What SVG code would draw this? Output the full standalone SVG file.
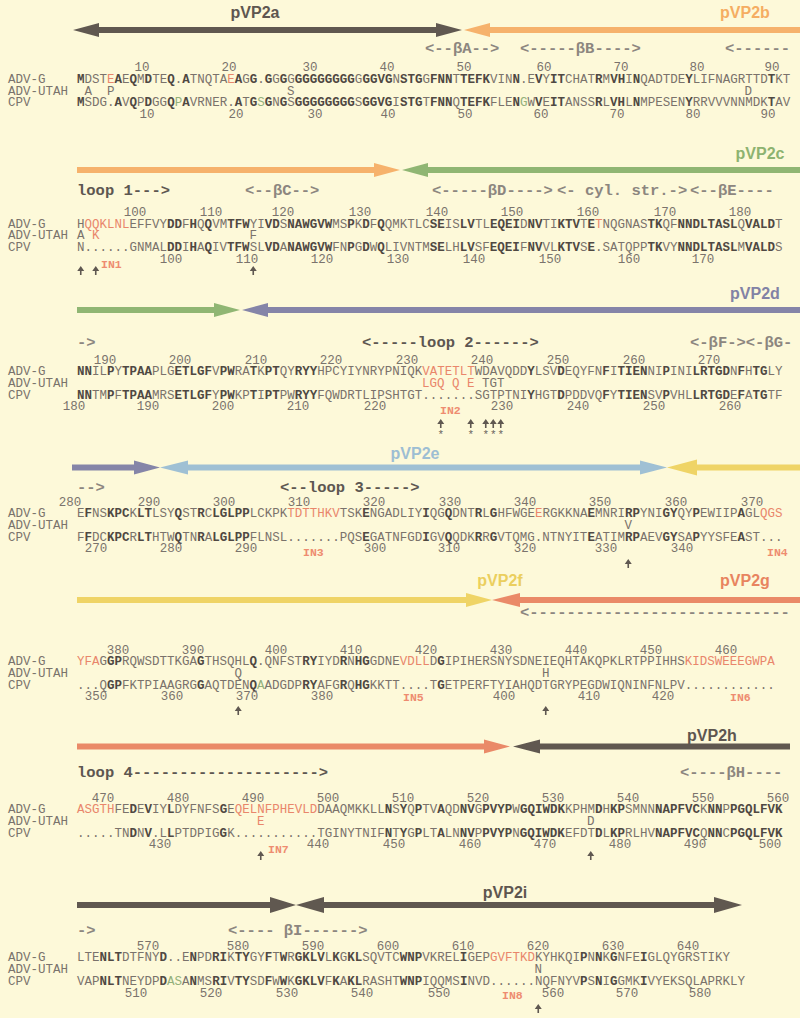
<svg xmlns="http://www.w3.org/2000/svg" xmlns:xlink="http://www.w3.org/1999/xlink" width="800" height="1018" viewBox="0 0 800 1018">
<style>
.s{font-family:'Liberation Mono','DejaVu Sans Mono',monospace;font-size:12.5px;fill:#7a726b}
.b{font-weight:bold;fill:#4f4842}
.r{fill:#e9866b}
.g{fill:#93b07a}
.n{font-family:'Liberation Mono','DejaVu Sans Mono',monospace;font-size:12.5px;fill:#7a736c;text-anchor:middle}
.lab{font-family:'Liberation Mono','DejaVu Sans Mono',monospace;font-size:12.5px;fill:#7a736c}
.in{font-family:'Liberation Mono','DejaVu Sans Mono',monospace;font-size:11.5px;font-weight:bold;fill:#ee8c70}
.ann{font-family:'Liberation Mono','DejaVu Sans Mono',monospace;font-size:15.5px;font-weight:bold;fill:#8c867f}
.loop{fill:#5d5751}
.dom{font-family:'Liberation Sans',Arial,sans-serif;font-size:16px;font-weight:bold;text-anchor:middle}
.star{font-family:'Liberation Mono',monospace;font-size:11px;fill:#6a635d;text-anchor:middle}
</style>
<defs>
<path id="up" d="M0,0 L3.5,5 L0.8,5 L0.8,9 L-0.8,9 L-0.8,5 L-3.5,5 Z" fill="#5f5851"/>
</defs>
<rect width="800" height="1018" fill="#fdf9d9"/>

<g id="domains">
<path d="M73,30 L99,23 L99,27 L436,27 L436,23 L462,30 L436,37 L436,33 L99,33 L99,37 Z" fill="#605850"/>
<path d="M464,30 L490,23 L490,27 L800,27 L800,33 L490,33 L490,37 Z" fill="#f6b26c"/>
<text class="dom" x="255" y="18" fill="#5e5650">pVP2a</text>
<text class="dom" x="745" y="18" fill="#f5ad62">pVP2b</text>

<path d="M77,167 L374,167 L374,163 L400,170 L374,177 L374,173 L77,173 Z" fill="#f6b26c"/>
<path d="M402,170 L428,163 L428,167 L800,167 L800,173 L428,173 L428,177 Z" fill="#90b673"/>
<text class="dom" x="760" y="159" fill="#8db370">pVP2c</text>

<path d="M77,307 L214,307 L214,303 L240,310 L214,317 L214,313 L77,313 Z" fill="#90b673"/>
<path d="M242,310 L268,303 L268,307 L800,307 L800,313 L268,313 L268,317 Z" fill="#8585a8"/>
<text class="dom" x="755" y="299" fill="#8282a5">pVP2d</text>

<path d="M72,464.5 L134,464.5 L134,460.5 L160,467.5 L134,474.5 L134,470.5 L72,470.5 Z" fill="#8585a8"/>
<path d="M160,467.5 L188,460.5 L188,464.5 L640,464.5 L640,460.5 L667,467.5 L640,474.5 L640,470.5 L188,470.5 L188,474.5 Z" fill="#9fc0d4"/>
<path d="M667,467.5 L697,459.5 L697,464.5 L800,464.5 L800,470.5 L697,470.5 L697,475.5 Z" fill="#efd466"/>
<text class="dom" x="415" y="459" fill="#9dbed3">pVP2e</text>

<path d="M77,597 L466,597 L466,593 L492,600 L466,607 L466,603 L77,603 Z" fill="#efd466"/>
<path d="M492,600 L520,593 L520,597 L800,597 L800,603 L520,603 L520,607 Z" fill="#ea8a68"/>
<text class="dom" x="500" y="586" fill="#ebcf5e">pVP2f</text>
<text class="dom" x="745" y="586" fill="#e8845f">pVP2g</text>

<path d="M77,743.5 L484,743.5 L484,739.5 L510,746.5 L484,753.5 L484,749.5 L77,749.5 Z" fill="#ea8a68"/>
<path d="M513,746.5 L540,739.5 L540,743.5 L790,743.5 L790,749.5 L540,749.5 L540,753.5 Z" fill="#605850"/>
<text class="dom" x="712" y="741" fill="#5e5650">pVP2h</text>

<path d="M77,902 L270,902 L270,897 L296,905 L270,913 L270,908 L77,908 Z" fill="#605850"/>
<path d="M296,905 L324,897 L324,902 L714,902 L714,897 L742,905 L714,913 L714,908 L324,908 L324,913 Z" fill="#605850"/>
<text class="dom" x="505" y="898" fill="#5e5650">pVP2i</text>
</g>

<g id="annotations" xml:space="preserve">
<text class="ann" x="425" y="53">&lt;--βA--&gt;</text>
<text class="ann" x="520" y="53">&lt;-----βB----&gt;</text>
<text class="ann" x="725" y="53">&lt;------</text>
<text class="ann loop" x="77" y="195">loop 1---&gt;</text>
<text class="ann" x="245" y="195">&lt;--βC--&gt;</text>
<text class="ann" x="432" y="195">&lt;-----βD----&gt;</text>
<text class="ann" x="557" y="195">&lt;- cyl. str.-&gt;</text>
<text class="ann" x="690" y="195">&lt;--βE----</text>
<text class="ann" x="77" y="347">-&gt;</text>
<text class="ann loop" x="362" y="347">&lt;-----loop 2------&gt;</text>
<text class="ann" x="690" y="347">&lt;-βF-&gt;&lt;-βG-</text>
<text class="ann" x="77" y="492">--&gt;</text>
<text class="ann loop" x="280" y="492">&lt;--loop 3-----&gt;</text>
<text class="ann" x="520" y="617">&lt;----------------------------</text>
<text class="ann loop" x="77" y="777">loop 4--------------------&gt;</text>
<text class="ann" x="680" y="777">&lt;----βH----</text>
<text class="ann" x="77" y="935">-&gt;</text>
<text class="ann" x="228" y="935">&lt;---- βI------&gt;</text>
</g>

<g id="block1">
<text class="lab" x="8" y="83">ADV-G</text><text class="lab" x="8" y="94.5">ADV-UTAH</text><text class="lab" x="8" y="106">CPV</text>
<text class="n" x="142" y="71">10</text><text class="n" x="229" y="71">20</text><text class="n" x="310" y="71">30</text><text class="n" x="387" y="71">40</text><text class="n" x="464" y="71">50</text><text class="n" x="544" y="71">60</text><text class="n" x="621" y="71">70</text><text class="n" x="697" y="71">80</text><text class="n" x="772" y="71">90</text>
<text class="s" x="77" y="83"><tspan class="b">M</tspan>DST<tspan class="r">E</tspan><tspan class="b">A</tspan>E<tspan class="b">Q</tspan>M<tspan class="b">D</tspan>TE<tspan class="b">Q</tspan>.<tspan class="b">A</tspan>TNQTA<tspan class="r">E</tspan><tspan class="b">A</tspan>G<tspan class="b">G</tspan>.<tspan class="b">G</tspan>G<tspan class="b">G</tspan>G<tspan class="b">GGGGGGGG</tspan>G<tspan class="b">GGVG</tspan>N<tspan class="b">STG</tspan>G<tspan class="b">FNN</tspan>T<tspan class="b">TEFK</tspan>VIN<tspan class="b">N</tspan>.E<tspan class="b">V</tspan>Y<tspan class="b">IT</tspan>CHAT<tspan class="b">R</tspan>M<tspan class="b">VH</tspan>I<tspan class="b">N</tspan>QADTDE<tspan class="b">Y</tspan>LIFNAGRTTD<tspan class="b">T</tspan>KT</text>
<text class="s" x="84.5" y="94.5">A</text><text class="s" x="107" y="94.5">P</text><text class="s" x="287" y="94.5">S</text><text class="s" x="744.5" y="94.5">D</text>
<text class="s" x="77" y="106"><tspan class="b">M</tspan>SDG.<tspan class="b">A</tspan>V<tspan class="b">Q</tspan>P<tspan class="b">D</tspan>GG<tspan class="b">Q</tspan><tspan class="g">P</tspan><tspan class="b">A</tspan>VRNER.<tspan class="b">A</tspan>T<tspan class="b">G</tspan><tspan class="g">S</tspan><tspan class="b">G</tspan>N<tspan class="b">G</tspan>S<tspan class="b">GGGGGGGG</tspan>S<tspan class="b">GGVG</tspan>I<tspan class="b">STG</tspan>T<tspan class="b">FNN</tspan>Q<tspan class="b">TEFK</tspan>FLE<tspan class="b">N</tspan><tspan class="g">G</tspan>W<tspan class="b">V</tspan>E<tspan class="b">IT</tspan>ANSS<tspan class="b">R</tspan>L<tspan class="b">VH</tspan>L<tspan class="b">N</tspan>MPESEN<tspan class="b">Y</tspan>RRVVVNNMDK<tspan class="b">T</tspan>AV</text>
<text class="n" x="147" y="117.5">10</text><text class="n" x="236" y="117.5">20</text><text class="n" x="315" y="117.5">30</text><text class="n" x="388" y="117.5">40</text><text class="n" x="465" y="117.5">50</text><text class="n" x="541" y="117.5">60</text><text class="n" x="617" y="117.5">70</text><text class="n" x="693" y="117.5">80</text><text class="n" x="768" y="117.5">90</text>
</g>

<g id="block2">
<text class="lab" x="8" y="227.5">ADV-G</text><text class="lab" x="8" y="239">ADV-UTAH</text><text class="lab" x="8" y="251">CPV</text>
<text class="n" x="135" y="216">100</text><text class="n" x="211" y="216">110</text><text class="n" x="283" y="216">120</text><text class="n" x="360" y="216">130</text><text class="n" x="437" y="216">140</text><text class="n" x="512" y="216">150</text><text class="n" x="588" y="216">160</text><text class="n" x="665" y="216">170</text><text class="n" x="740" y="216">180</text>
<text class="s" x="77" y="227.5">H<tspan class="r">QQKLNL</tspan>EFFVY<tspan class="b">DD</tspan>F<tspan class="b">H</tspan>Q<tspan class="b">Q</tspan>VM<tspan class="b">TFW</tspan>YI<tspan class="b">VD</tspan>S<tspan class="b">NAWGVW</tspan>MS<tspan class="b">P</tspan>K<tspan class="b">D</tspan>F<tspan class="b">Q</tspan>QMKTLC<tspan class="b">SE</tspan>IS<tspan class="b">LV</tspan>TL<tspan class="b">EQEI</tspan>D<tspan class="b">NV</tspan>TI<tspan class="b">KTV</tspan>T<tspan class="b">E</tspan><tspan class="r">T</tspan>NQGNAS<tspan class="b">TK</tspan>QF<tspan class="b">NNDLTASL</tspan>Q<tspan class="b">VALD</tspan>T</text>
<text class="s" x="77" y="239">A</text><text class="s r" x="92" y="239">K</text><text class="s" x="249.5" y="239">F</text>
<text class="s" x="77" y="251">N......GNMAL<tspan class="b">DD</tspan>I<tspan class="b">H</tspan>A<tspan class="b">Q</tspan>IV<tspan class="b">TFW</tspan>SL<tspan class="b">VD</tspan>A<tspan class="b">NAWGVW</tspan>FN<tspan class="b">P</tspan>G<tspan class="b">D</tspan>W<tspan class="b">Q</tspan>LIVNTM<tspan class="b">SE</tspan>LH<tspan class="b">LV</tspan>SF<tspan class="b">EQEI</tspan>F<tspan class="b">NV</tspan>VL<tspan class="b">KTV</tspan>S<tspan class="b">E</tspan>.SATQPP<tspan class="b">TK</tspan>VY<tspan class="b">NNDLTASL</tspan>M<tspan class="b">VALD</tspan>S</text>
<text class="n" x="171" y="263">100</text><text class="n" x="247" y="263">110</text><text class="n" x="322" y="263">120</text><text class="n" x="398" y="263">130</text><text class="n" x="474" y="263">140</text><text class="n" x="550" y="263">150</text><text class="n" x="629" y="263">160</text><text class="n" x="703" y="263">170</text>
<text class="in" x="101" y="268">IN1</text>
<use xlink:href="#up" x="80.75" y="266"/><use xlink:href="#up" x="95.75" y="266"/><use xlink:href="#up" x="253.25" y="266"/>
</g>

<g id="block3">
<text class="lab" x="8" y="375">ADV-G</text><text class="lab" x="8" y="387">ADV-UTAH</text><text class="lab" x="8" y="399">CPV</text>
<text class="n" x="105" y="363.5">190</text><text class="n" x="180" y="363.5">200</text><text class="n" x="256" y="363.5">210</text><text class="n" x="331" y="363.5">220</text><text class="n" x="407" y="363.5">230</text><text class="n" x="482" y="363.5">240</text><text class="n" x="558" y="363.5">250</text><text class="n" x="634" y="363.5">260</text><text class="n" x="709" y="363.5">270</text>
<text class="s" x="77" y="375"><tspan class="b">NN</tspan>IL<tspan class="b">P</tspan>Y<tspan class="b">TPAA</tspan>PLG<tspan class="b">ETLGF</tspan>V<tspan class="b">PW</tspan>RA<tspan class="b">T</tspan>K<tspan class="b">PT</tspan>QY<tspan class="b">RYY</tspan>HPCYIYNRYPNIQK<tspan class="r">VATETLT</tspan>WDAVQDD<tspan class="b">Y</tspan>LSV<tspan class="b">D</tspan>EQYFN<tspan class="b">F</tspan>I<tspan class="b">TIEN</tspan>NI<tspan class="b">P</tspan>INI<tspan class="b">LRTGD</tspan>N<tspan class="b">F</tspan>H<tspan class="b">TG</tspan>LY</text>
<text class="s r" x="422" y="387" xml:space="preserve">LGQ Q E</text><text class="s" x="482" y="387">TGT</text>
<text class="s" x="77" y="399"><tspan class="b">NN</tspan>TM<tspan class="b">P</tspan>F<tspan class="b">TPAA</tspan>MRS<tspan class="b">ETLGF</tspan>Y<tspan class="b">PW</tspan>KP<tspan class="b">T</tspan>I<tspan class="b">PT</tspan>PW<tspan class="b">RYY</tspan>FQWDRTLIPSHTGT.......SGTPTNI<tspan class="b">Y</tspan>HGT<tspan class="b">D</tspan>PDDVQ<tspan class="b">F</tspan>Y<tspan class="b">TIEN</tspan>SV<tspan class="b">P</tspan>VHL<tspan class="b">LRTGD</tspan>E<tspan class="b">F</tspan>A<tspan class="b">TG</tspan>TF</text>
<text class="n" x="74" y="410">180</text><text class="n" x="148" y="410">190</text><text class="n" x="223" y="410">200</text><text class="n" x="298" y="410">210</text><text class="n" x="375" y="410">220</text><text class="n" x="502" y="410">230</text><text class="n" x="578" y="410">240</text><text class="n" x="654" y="410">250</text><text class="n" x="730" y="410">260</text>
<text class="in" x="440" y="414">IN2</text>
<use xlink:href="#up" x="440.75" y="419"/><use xlink:href="#up" x="470.75" y="419"/><use xlink:href="#up" x="485.75" y="419"/><use xlink:href="#up" x="493.25" y="419"/><use xlink:href="#up" x="500.75" y="419"/>
<text class="star" x="440.75" y="438">*</text><text class="star" x="470.75" y="438">*</text><text class="star" x="485.75" y="438">*</text><text class="star" x="493.25" y="438">*</text><text class="star" x="500.75" y="438">*</text>
</g>

<g id="block4">
<text class="lab" x="8" y="517">ADV-G</text><text class="lab" x="8" y="529">ADV-UTAH</text><text class="lab" x="8" y="540.5">CPV</text>
<text class="n" x="70" y="505.5">280</text><text class="n" x="149" y="505.5">290</text><text class="n" x="224" y="505.5">300</text><text class="n" x="299" y="505.5">310</text><text class="n" x="374" y="505.5">320</text><text class="n" x="450" y="505.5">330</text><text class="n" x="525" y="505.5">340</text><text class="n" x="600" y="505.5">350</text><text class="n" x="676" y="505.5">360</text><text class="n" x="752" y="505.5">370</text>
<text class="s" x="77" y="517">E<tspan class="b">F</tspan>NS<tspan class="b">KPC</tspan>K<tspan class="b">LT</tspan>LSY<tspan class="b">Q</tspan>ST<tspan class="b">R</tspan>C<tspan class="b">LGLPP</tspan>LCKPK<tspan class="r">TDTTHKV</tspan>TSK<tspan class="b">E</tspan>NGADLIY<tspan class="b">I</tspan>QG<tspan class="b">Q</tspan>DNT<tspan class="b">R</tspan>L<tspan class="b">G</tspan>HFWGE<tspan class="r">E</tspan>RGKKNA<tspan class="b">E</tspan>MNRI<tspan class="b">RP</tspan>YNI<tspan class="b">GY</tspan>QY<tspan class="b">P</tspan>EWIIP<tspan class="b">A</tspan>GL<tspan class="r">QGS</tspan></text>
<text class="s" x="624.5" y="529">V</text>
<text class="s" x="77" y="540.5">F<tspan class="b">F</tspan>DC<tspan class="b">KPC</tspan>R<tspan class="b">LT</tspan>HTW<tspan class="b">Q</tspan>TN<tspan class="b">R</tspan>A<tspan class="b">LGLPP</tspan>FLNSL.......PQS<tspan class="b">E</tspan>GATNFGD<tspan class="b">I</tspan>GV<tspan class="b">Q</tspan>QDK<tspan class="b">R</tspan>R<tspan class="b">G</tspan>VTQMG.NTNYIT<tspan class="b">E</tspan>ATIM<tspan class="b">RP</tspan>AEV<tspan class="b">GY</tspan>SA<tspan class="b">P</tspan>YYSFE<tspan class="b">A</tspan>ST...</text>
<text class="n" x="96" y="552">270</text><text class="n" x="171" y="552">280</text><text class="n" x="246" y="552">290</text><text class="n" x="375" y="552">300</text><text class="n" x="449" y="552">310</text><text class="n" x="525" y="552">320</text><text class="n" x="606" y="552">330</text><text class="n" x="682" y="552">340</text>
<text class="in" x="303" y="556">IN3</text><text class="in" x="767" y="556">IN4</text>
<use xlink:href="#up" x="628.25" y="559"/>
</g>

<g id="block5">
<text class="lab" x="8" y="665">ADV-G</text><text class="lab" x="8" y="677">ADV-UTAH</text><text class="lab" x="8" y="688.5">CPV</text>
<text class="n" x="118" y="653.5">380</text><text class="n" x="193" y="653.5">390</text><text class="n" x="276" y="653.5">400</text><text class="n" x="351" y="653.5">410</text><text class="n" x="426" y="653.5">420</text><text class="n" x="501" y="653.5">430</text><text class="n" x="576" y="653.5">440</text><text class="n" x="651" y="653.5">450</text><text class="n" x="726" y="653.5">460</text>
<text class="s" x="77" y="665"><tspan class="r">YFA</tspan>G<tspan class="b">GP</tspan>RQWSDTTKGA<tspan class="b">G</tspan>THSQHL<tspan class="b">Q</tspan>.QNFST<tspan class="b">RY</tspan>IYD<tspan class="b">R</tspan>N<tspan class="b">HG</tspan>GDNE<tspan class="r">VDLL</tspan>D<tspan class="b">G</tspan>IPIHERSNYSDNEIEQHTAKQPKLRTPPIHHS<tspan class="r">KIDSWEEEGWPA</tspan></text>
<text class="s" x="234.5" y="677">Q</text><text class="s" x="542" y="677">H</text>
<text class="s" x="77" y="688.5">...Q<tspan class="b">GP</tspan>FKTPIAAGRG<tspan class="b">G</tspan>AQTDEN<tspan class="b">Q</tspan><tspan class="g">A</tspan>ADGDP<tspan class="b">RY</tspan>AFG<tspan class="b">R</tspan>Q<tspan class="b">HG</tspan>KKTT....T<tspan class="b">G</tspan>ETPERFTYIAHQDTGRYPEGDWIQNINFNLPV............</text>
<text class="n" x="96" y="700">350</text><text class="n" x="172" y="700">360</text><text class="n" x="247" y="700">370</text><text class="n" x="322" y="700">380</text><text class="n" x="504" y="700">400</text><text class="n" x="589" y="700">410</text><text class="n" x="663" y="700">420</text>
<text class="in" x="403" y="701">IN5</text><text class="in" x="730" y="701">IN6</text>
<use xlink:href="#up" x="238.25" y="706"/><use xlink:href="#up" x="545.75" y="706"/>
</g>

<g id="block6">
<text class="lab" x="8" y="813">ADV-G</text><text class="lab" x="8" y="825">ADV-UTAH</text><text class="lab" x="8" y="836.5">CPV</text>
<text class="n" x="103" y="801.5">470</text><text class="n" x="178" y="801.5">480</text><text class="n" x="253" y="801.5">490</text><text class="n" x="328" y="801.5">500</text><text class="n" x="403" y="801.5">510</text><text class="n" x="478" y="801.5">520</text><text class="n" x="553" y="801.5">530</text><text class="n" x="628" y="801.5">540</text><text class="n" x="703" y="801.5">550</text><text class="n" x="778" y="801.5">560</text>
<text class="s" x="77" y="813"><tspan class="r">ASGTH</tspan>FE<tspan class="b">D</tspan>E<tspan class="b">V</tspan>IY<tspan class="b">L</tspan>DYFNFS<tspan class="b">G</tspan>E<tspan class="r">QELNFPHEVLD</tspan>DAAQMKKLL<tspan class="b">N</tspan>S<tspan class="b">Y</tspan>Q<tspan class="b">P</tspan>TV<tspan class="b">A</tspan>QD<tspan class="b">NV</tspan>G<tspan class="b">PVYP</tspan>W<tspan class="b">G</tspan><tspan class="b">QIWDK</tspan>KPHM<tspan class="b">D</tspan>H<tspan class="b">KP</tspan>SMNN<tspan class="b">NAPFVC</tspan>K<tspan class="b">NN</tspan>P<tspan class="b">PGQLFVK</tspan></text>
<text class="s r" x="257" y="825">E</text><text class="s" x="587" y="825">D</text>
<text class="s" x="77" y="836.5">.....TN<tspan class="b">D</tspan>N<tspan class="b">V</tspan>.L<tspan class="b">L</tspan>PTDPIG<tspan class="b">G</tspan>K...........TGINYTNIF<tspan class="b">N</tspan>T<tspan class="b">Y</tspan>G<tspan class="b">P</tspan>LT<tspan class="b">A</tspan>LN<tspan class="b">NV</tspan>P<tspan class="b">PVYP</tspan>N<tspan class="b">G</tspan><tspan class="b">QIWDK</tspan>EFDT<tspan class="b">D</tspan>L<tspan class="b">KP</tspan>RLHV<tspan class="b">NAPFVC</tspan>Q<tspan class="b">NN</tspan>C<tspan class="b">PGQLFVK</tspan></text>
<text class="n" x="160" y="848">430</text><text class="n" x="318" y="848">440</text><text class="n" x="394" y="848">450</text><text class="n" x="470" y="848">460</text><text class="n" x="545" y="848">470</text><text class="n" x="620" y="848">480</text><text class="n" x="695" y="848">490</text><text class="n" x="770" y="848">500</text>
<text class="in" x="268" y="853">IN7</text>
<use xlink:href="#up" x="260.75" y="851"/><use xlink:href="#up" x="590.75" y="851"/>
</g>

<g id="block7">
<text class="lab" x="8" y="961">ADV-G</text><text class="lab" x="8" y="973">ADV-UTAH</text><text class="lab" x="8" y="985">CPV</text>
<text class="n" x="148" y="949.5">570</text><text class="n" x="238" y="949.5">580</text><text class="n" x="313" y="949.5">590</text><text class="n" x="388" y="949.5">600</text><text class="n" x="463" y="949.5">610</text><text class="n" x="538" y="949.5">620</text><text class="n" x="613" y="949.5">630</text><text class="n" x="688" y="949.5">640</text>
<text class="s" x="77" y="961">LTE<tspan class="b">NLT</tspan>DTFNY<tspan class="b">D</tspan>..E<tspan class="b">N</tspan>PD<tspan class="b">RI</tspan>K<tspan class="b">TY</tspan>GY<tspan class="b">F</tspan>T<tspan class="b">W</tspan>R<tspan class="b">GKLV</tspan>L<tspan class="b">K</tspan>G<tspan class="b">KL</tspan>SQVTC<tspan class="b">WNP</tspan>VKREL<tspan class="b">I</tspan>GEP<tspan class="r">GVFTKD</tspan>KYHKQI<tspan class="b">P</tspan>N<tspan class="b">N</tspan>K<tspan class="b">G</tspan>NFE<tspan class="b">I</tspan>GLQYGRSTIKY</text>
<text class="s" x="534.5" y="973">N</text>
<text class="s" x="77" y="985">VAP<tspan class="b">NLT</tspan>NEYDP<tspan class="b">D</tspan><tspan class="g">AS</tspan>A<tspan class="b">N</tspan>MS<tspan class="b">RI</tspan>V<tspan class="b">TY</tspan>SD<tspan class="b">F</tspan>W<tspan class="b">W</tspan>K<tspan class="b">GKLV</tspan>F<tspan class="b">K</tspan>A<tspan class="b">KL</tspan>RASHT<tspan class="b">WNP</tspan>IQQMS<tspan class="b">I</tspan>NVD......NQFNYV<tspan class="b">P</tspan>S<tspan class="b">N</tspan>I<tspan class="b">G</tspan>GMK<tspan class="b">I</tspan>VYEKSQLAPRKLY</text>
<text class="n" x="136" y="997">510</text><text class="n" x="211" y="997">520</text><text class="n" x="287" y="997">530</text><text class="n" x="362" y="997">540</text><text class="n" x="439" y="997">550</text><text class="n" x="553" y="997">560</text><text class="n" x="627" y="997">570</text><text class="n" x="700" y="997">580</text>
<text class="in" x="502" y="999">IN8</text>
<use xlink:href="#up" x="538.25" y="1004"/>
</g>
</svg>
